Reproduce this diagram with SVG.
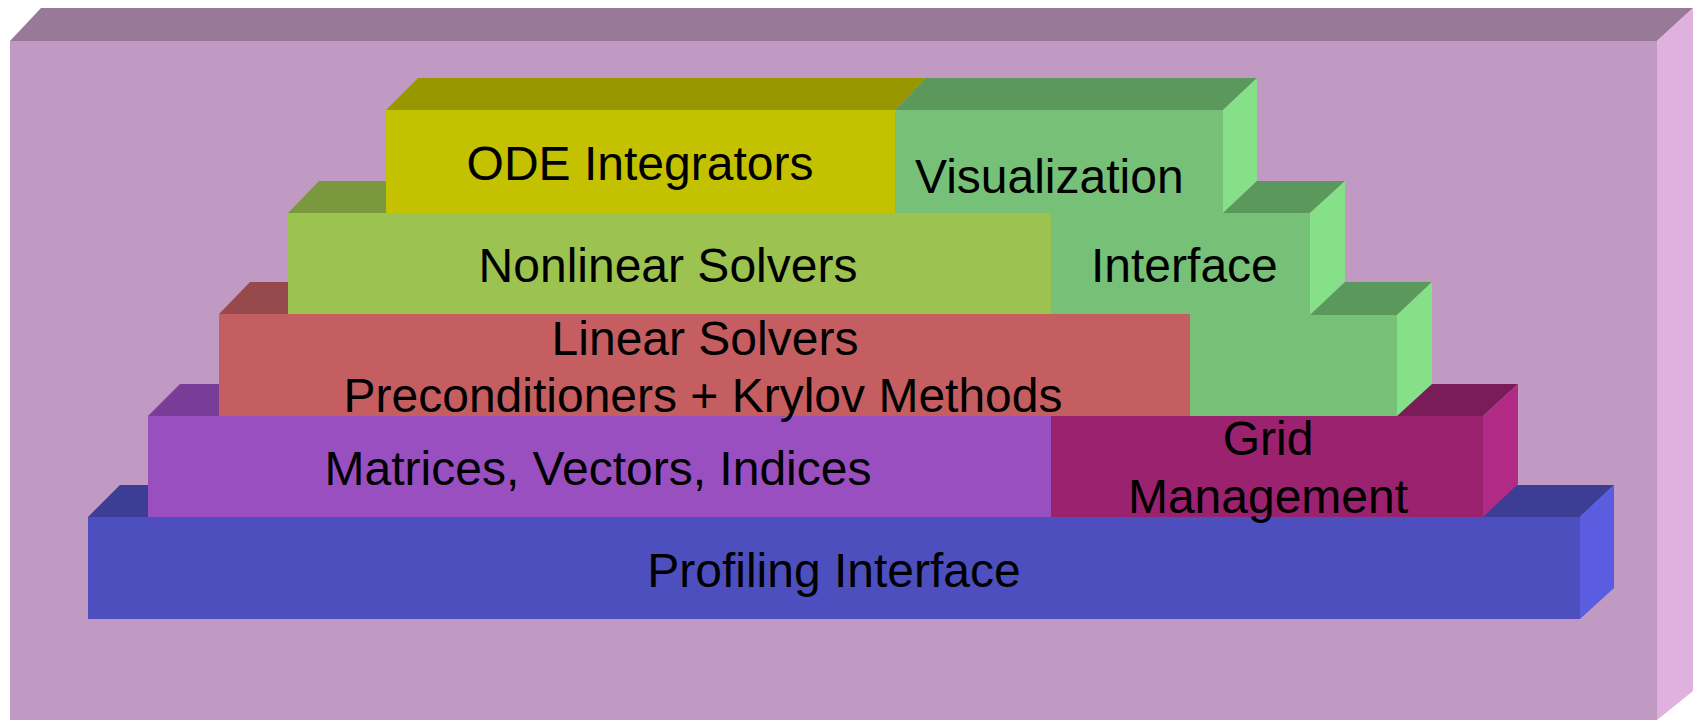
<svg xmlns="http://www.w3.org/2000/svg" width="1696" height="720" viewBox="0 0 1696 720">
<style>
text{font-family:"Liberation Sans",Arial,sans-serif;font-size:48px;fill:#000}
.mid{text-anchor:middle}
</style>
<rect width="1696" height="720" fill="#ffffff"/>
<g id="background">
<polygon points="10,41 41,8 1693,8 1657,41" fill="#997998"/>
<polygon points="1657,41 1693,8 1693,691 1657,720" fill="#DEB1DF"/>
<rect x="10" y="41" width="1647" height="679" fill="#C19AC3"/>
</g>
<g id="profiling">
<polygon points="88,517 120,485 1614,485 1580,517" fill="#3C3D95"/>
<polygon points="1580,517 1614,485 1614,588 1580,619" fill="#5B5DE0"/>
<rect x="88" y="517" width="1492" height="102" fill="#4D4FBF"/>
<text x="834" y="587" class="mid">Profiling Interface</text>
</g>
<g id="matrices">
<polygon points="148,416 180,384 1083,384 1051,416" fill="#7A3D97"/>
<rect x="148" y="416" width="903" height="101" fill="#9A4FC0"/>
<text x="598" y="485" class="mid">Matrices, Vectors, Indices</text>
</g>
<g id="grid">
<polygon points="1051,416 1083,384 1518,384 1483,416" fill="#7A1C58"/>
<polygon points="1483,416 1518,384 1518,484 1483,517" fill="#B12B86"/>
<rect x="1051" y="416" width="432" height="101" fill="#9A226E"/>
<text x="1268" y="455" class="mid">Grid</text>
<text x="1268" y="513" class="mid">Management</text>
</g>
<g id="linear">
<polygon points="219,314 250,282 1222,282 1190,314" fill="#974A4C"/>
<rect x="219" y="314" width="971" height="102" fill="#C45E60"/>
<text x="705" y="355" class="mid">Linear Solvers</text>
<text x="703" y="412" class="mid">Preconditioners + Krylov Methods</text>
</g>
<g id="nonlinear">
<polygon points="288,213 319,181 1083,181 1051,213" fill="#7A983D"/>
<rect x="288" y="213" width="763" height="101" fill="#9CC250"/>
<text x="668" y="282" class="mid">Nonlinear Solvers</text>
</g>
<g id="visualization">
<polygon points="895,110 926,78 1257,78 1223,110" fill="#5A985C"/>
<polygon points="1223,110 1257,78 1257,181 1223,213" fill="#86E087"/>
<polygon points="1223,213 1257,181 1345,181 1310,213" fill="#5A985C"/>
<polygon points="1310,213 1345,181 1345,282 1310,315" fill="#86E087"/>
<polygon points="1310,315 1345,282 1432,282 1397,315" fill="#5A985C"/>
<polygon points="1397,315 1432,282 1432,384 1397,416" fill="#86E087"/>
<polygon points="895,110 1223,110 1223,213 1310,213 1310,315 1397,315 1397,416 1190,416 1190,314 1051,314 1051,213 895,213" fill="#76C177"/>
<text x="915" y="193">Visualization</text>
<text x="1091" y="282">Interface</text>
</g>
<g id="ode">
<polygon points="386,110 418,78 926,78 895,110" fill="#999700"/>
<rect x="386" y="110" width="509" height="103" fill="#C4C200"/>
<text x="640" y="180" class="mid">ODE Integrators</text>
</g>
<g id="connectors"></g>
</svg>
